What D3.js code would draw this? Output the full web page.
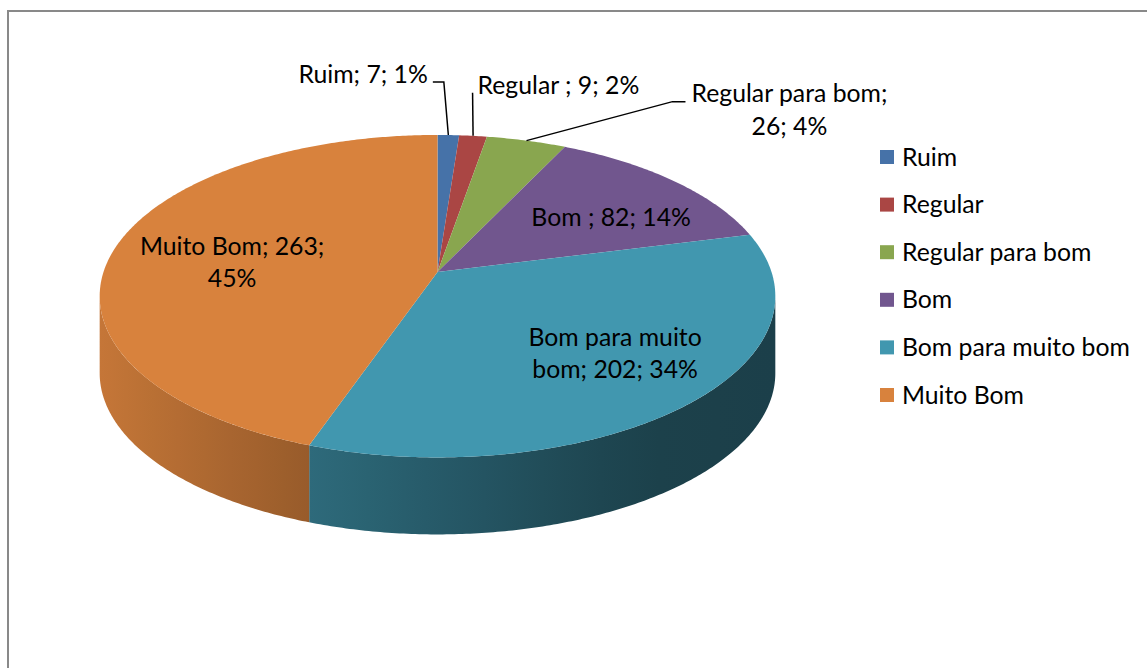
<!DOCTYPE html>
<html>
<head>
<meta charset="utf-8">
<script src="https://cdn.jsdelivr.net/npm/d3@7"></script>
<style>
body { margin: 0; background: #fff; }
svg { display: block; font-family: Lato, "Open Sans", sans-serif; }
</style>
</head>
<body>
<svg width="1147" height="668"></svg>
<script>
// Categories keep the trailing spaces of the source sheet ("Regular ; 9; 2%")
const categories = ["Ruim", "Regular ", "Regular para bom", "Bom ", "Bom para muito bom", "Muito Bom"];
const counts = [7, 9, 26, 82, 202, 263];
const colors = ["#4672A8", "#AA4644", "#89A64F", "#71568E", "#4197AF", "#D8823D"];
// how many words go on the first line of a wrapped data label
const firstLineWords = [null, null, 3, null, 3, 3];

const width = 1147,
    height = 668;

// 3D pie geometry (perspective ellipse + extruded side)
const cx = 437.5, cy = 272;
const rx = 334, ry = 157.6;
const persp = 0.15;
const depth = 77;
const lineHeight = 32.5;

// where Excel put each label: inside ones nudged from centroid, outside ones on a leader
const labelLayout = [
    { leader: [[-4.5, -53], [-15.5, -53]], at: [-20.5, -61], anchor: "end" },
    { leader: [[-0.5, -43]], at: [4.5, -51], anchor: "start" },
    { leader: [[146, -39], [159, -39]], at: [263, -31], anchor: "middle" },
    { inside: true, at: [13, 7.5], anchor: "middle" },
    { inside: true, at: [17, -1.5], anchor: "middle" },
    { inside: true, at: [8.4, 7.3], anchor: "middle" }
];

const svg = d3.select("svg");
const defs = svg.append("defs");

// chart area border (runs off the right and bottom of the picture)
svg.append("rect")
    .attr("x", 8).attr("y", 11)
    .attr("width", 1300).attr("height", 800)
    .attr("fill", "none")
    .attr("stroke", "#898989")
    .attr("stroke-width", 2);

const total = d3.sum(counts);
const pct = d3.format(".0%");

const pie = d3.pie().sort(null).value(function (d) { return d; });
const arcs = pie(counts);

function project(theta, r, dy) {
    const u = r * Math.sin(theta), w = -r * Math.cos(theta);
    const s = 1 - persp * w;
    return [cx + rx * u / s, cy + ry * w / s + (dy || 0)];
}

function arcPoints(a0, a1, r, dy) {
    const n = Math.max(2, Math.ceil((a1 - a0) / 0.01));
    return d3.range(n + 1).map(function (i) {
        return project(a0 + (a1 - a0) * i / n, r, dy);
    });
}

// side is visible between the two silhouette tangents
const visFrom = Math.acos(-persp),
    visTo = 2 * Math.PI - Math.acos(-persp);

// side lighting falls off from left to right
const shade = d3.scaleLinear()
    .domain([100, 311, 640, 775])
    .range([0.91, 0.70, 0.43, 0.42])
    .clamp(true);

function shaded(color, f) {
    const c = d3.rgb(color);
    return d3.rgb(c.r * f, c.g * f, c.b * f).formatHex();
}

const line = d3.line();

const sides = svg.append("g").attr("class", "sides");
arcs.forEach(function (d, i) {
    const s = Math.max(d.startAngle, visFrom),
        e = Math.min(d.endAngle, visTo);
    if (e <= s) return;
    const top = arcPoints(s, e, 1, 0);
    const bottom = arcPoints(s, e, 1, depth).reverse();
    const xs = top.map(function (p) { return p[0]; });
    const x0 = d3.min(xs), x1 = d3.max(xs);

    const grad = defs.append("linearGradient")
        .attr("id", "side" + i)
        .attr("gradientUnits", "userSpaceOnUse")
        .attr("x1", x0).attr("x2", x1)
        .attr("y1", 0).attr("y2", 0);
    d3.range(9).forEach(function (k) {
        const t = k / 8;
        grad.append("stop")
            .attr("offset", t)
            .attr("stop-color", shaded(colors[i], shade(x0 + (x1 - x0) * t)));
    });

    sides.append("path")
        .attr("d", line(top.concat(bottom)) + "Z")
        .attr("fill", "url(#side" + i + ")");
});

svg.append("g").attr("class", "slices")
    .selectAll("path")
    .data(arcs)
    .join("path")
    .attr("d", function (d) {
        return line([[cx, cy]].concat(arcPoints(d.startAngle, d.endAngle, 1, 0))) + "Z";
    })
    .attr("fill", function (d, i) { return colors[i]; });

// fit the font so the text widths match the Calibri original
const probe = svg.append("text").style("font-size", "24px").text("Bom para muito bom");
const fontSize = 24 * 228 / probe.node().getComputedTextLength();
probe.remove();

// data labels
const labels = svg.append("g").attr("class", "labels")
    .style("font-size", fontSize + "px")
    .attr("fill", "#000");

arcs.forEach(function (d, i) {
    const mid = (d.startAngle + d.endAngle) / 2;
    const lay = labelLayout[i];
    const base = lay.inside ? project(mid, 0.66, 0) : project(mid, 1, 0);

    if (lay.leader) {
        const pts = [base].concat(lay.leader.map(function (o) {
            return [base[0] + o[0], base[1] + o[1]];
        }));
        labels.append("path")
            .attr("d", line(pts))
            .attr("fill", "none")
            .attr("stroke", "#000")
            .attr("stroke-width", 1.5);
    }

    const words = (categories[i] + "; " + counts[i] + "; " + pct(counts[i] / total)).split(" ");
    const k = firstLineWords[i];
    const lines = k ? [words.slice(0, k).join(" "), words.slice(k).join(" ")] : [words.join(" ")];

    const tx = base[0] + lay.at[0], ty = base[1] + lay.at[1];
    labels.append("text")
        .attr("text-anchor", lay.anchor)
        .selectAll("tspan")
        .data(lines)
        .join("tspan")
        .attr("x", tx)
        .attr("y", function (t, j) { return ty + (j - (lines.length - 1) / 2) * lineHeight; })
        .attr("dy", "0.35em")
        .text(function (t) { return t; });
});

// legend
const legendY = d3.scalePoint()
    .domain(d3.range(categories.length))
    .range([157, 395]);

const legend = svg.append("g").attr("class", "legend")
    .style("font-size", fontSize + "px");

const items = legend.selectAll("g")
    .data(categories)
    .join("g")
    .attr("transform", function (d, i) { return "translate(880," + legendY(i) + ")"; });

items.append("rect")
    .attr("x", 0).attr("y", -7)
    .attr("width", 14).attr("height", 14)
    .attr("fill", function (d, i) { return colors[i]; });

items.append("text")
    .attr("x", 22)
    .attr("dy", "0.35em")
    .text(function (d) { return d.trim(); });
</script>
</body>
</html>
